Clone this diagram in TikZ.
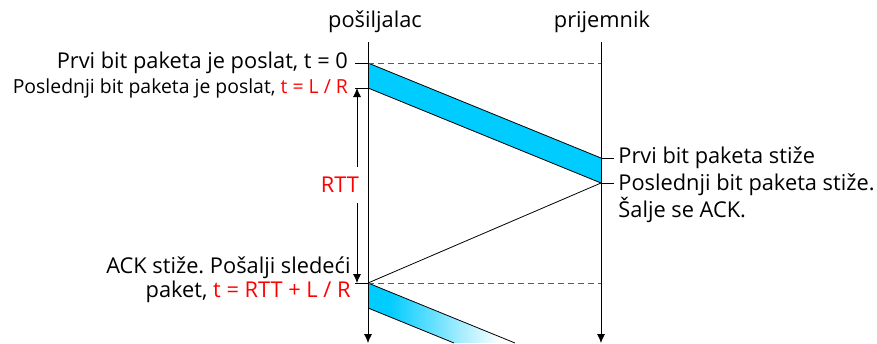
\documentclass[tikz,border=0pt]{standalone}
\usepackage{fontspec}
\setmainfont{Open Sans}
\usetikzlibrary{arrows.meta}
\definecolor{pktblue}{RGB}{0,204,255}
\definecolor{tred}{RGB}{255,0,0}
\pgfdeclarehorizontalshading{pktfade}{100bp}{color(0bp)=(pktblue); color(32bp)=(pktblue); color(70bp)=(white); color(100bp)=(white)}
\frenchspacing
\begin{document}
\begin{tikzpicture}[>={Latex[length=4.5pt,width=4pt]}, x=0.5pt, y=-0.5pt, font=\fontsize{10.9}{12.5}\selectfont]
\tikzset{gap/.style={densely dashed, gray!70!black}}
\useasboundingbox (0,0) rectangle (877,343);

\coordinate (sTop) at (368,42);
\coordinate (sEnd) at (368,343);
\coordinate (rTop) at (601,42);
\coordinate (rEnd) at (601,343);
\coordinate (s0) at (368,63);
\coordinate (s1) at (368,88);
\coordinate (s2) at (368,283);
\coordinate (s3) at (368,308);
\coordinate (r0) at (601,158);
\coordinate (r1) at (601,183);
\coordinate (d0) at (601,63);
\coordinate (d2) at (601,283);

% first packet
\fill[pktblue] (s0) -- (r0) -- (r1) -- (s1) -- cycle;
\draw (s0) -- (r0);
\draw (s1) -- (r1);

% next packet
\begin{scope}
\clip (0,0) rectangle (877,343);
\shade[shading=pktfade] (s2) -- (515,343) -- (454,343) -- (s3) -- cycle;
\draw (s2) -- (515,343);
\draw (s3) -- (454,343);
\end{scope}

\draw[gap] (s0) -- (d0);
\draw[gap] (s2) -- (d2);
\draw (r1) -- (s2);

\draw[->] (sTop) -- (sEnd);
\draw[->] (rTop) -- (rEnd);
\node (snd) at (375,22) {pošiljalac};
\node (rcv) at (602,22) {prijemnik};

% ticks
\draw (s0) -- ++(-13,0) coordinate (t0);
\draw (s1) -- ++(-13,0) coordinate (t1);
\draw (s2) -- ++(-13,0) coordinate (t2);
\draw (r0) -- ++(13,0) coordinate (u0);
\draw (r1) -- ++(13,0) coordinate (u1);

\node[anchor=east] (first) at (t0) {Prvi bit paketa je poslat, t = 0};
\node[anchor=east, font=\fontsize{9.7}{11}\selectfont] (last) at (t1) {Poslednji bit paketa je poslat, \textcolor{tred}{t = L / R}};
\node[anchor=west, inner sep=2pt] (arr0) at (u0) {Prvi bit paketa stiže};
\node[anchor=north west, align=left, inner sep=2pt] (arr1) at ([yshift=7pt]u1) {Poslednji bit paketa stiže.\\Šalje se ACK.};
\node[anchor=east, align=right, inner sep=2pt, font=\fontsize{10.9}{12}\selectfont] (ack) at ([yshift=1.5pt]t2) {ACK stiže. Pošalji sledeći\\paket, \textcolor{tred}{t = RTT + L / R}};

% RTT
\coordinate (rttTop) at (357,88);
\coordinate (rttBot) at (357,283);
\draw[<->] (rttTop) -- (rttBot);
\node[fill=white, text=tred, minimum height=18pt, inner sep=1pt] (rtt) at (340,185) {RTT};
\end{tikzpicture}
\end{document}
